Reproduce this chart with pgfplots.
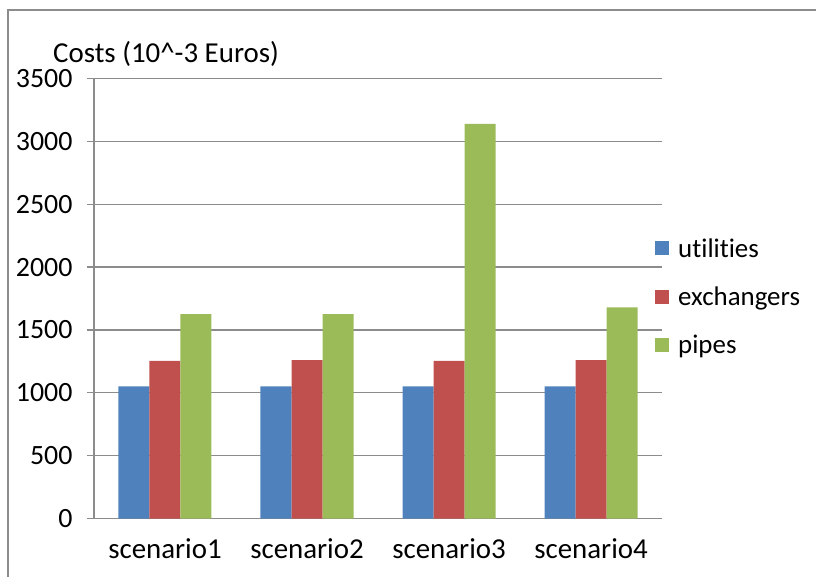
\documentclass[border=0pt]{standalone}
\usepackage{pgfplots}
\pgfplotsset{compat=1.18}
\usepackage{fontspec}
\setmainfont{Carlito}[Ligatures=NoCommon]
\definecolor{cblue}{HTML}{4F81BD}
\definecolor{cred}{HTML}{C0504D}
\definecolor{cgreen}{HTML}{9BBB59}
\definecolor{cgrid}{HTML}{8C8C8C}
\begin{document}
\begin{tikzpicture}
\path[use as bounding box] (-94bp,-58.5bp) rectangle (722bp,518.5bp);
\draw[cgrid, line width=1.2bp] (-86bp,-58.5bp) -- (-86bp,508.5bp) -- (722bp,508.5bp);
\begin{axis}[
  at={(0bp,0bp)}, anchor=south west,
  scale only axis, width=568bp, height=440bp,
  ybar=0pt, bar width=31bp,
  xmin=-0.5, xmax=3.5, ymin=0, ymax=3500,
  xtick={0,1,2,3},
  xticklabels={scenario1,scenario2,scenario3,scenario4},
  x tick style={draw=none},
  extra x ticks={-0.5,0.5,1.5,2.5,3.5},
  extra x tick labels={},
  extra x tick style={tick style={draw=cgrid, line width=1.2bp}, major tick length=7bp, tick align=outside, grid=none},
  ytick={0,500,1000,1500,2000,2500,3000,3500},
  axis x line*=bottom, axis y line*=left,
  axis line style={draw=cgrid, line width=1.2bp, -},
  y tick style={draw=cgrid, line width=1.2bp},
  tick align=outside, major tick length=7bp,
  ymajorgrids, major grid style={draw=cgrid, line width=1.2bp},
  /pgf/number format/assume math mode=true,
  /pgf/number format/set thousands separator={},
  tick label style={text=black},
  yticklabel style={xshift=-11bp, font=\fontsize{28}{33}\selectfont},
  xticklabel style={yshift=-10bp, font=\fontsize{29}{34}\selectfont},
  legend style={draw=none, fill=none, at={(0.9877,0.5045)}, anchor=west,
    font=\fontsize{27}{32}\selectfont, row sep=24bp, inner sep=0pt,
    /tikz/every odd column/.append style={column sep=7bp}},
  legend cell align=left,
  legend image code/.code={\fill[#1] (0bp,-7bp) rectangle (14bp,7bp);},
]
\addplot[fill=cblue, draw=none] coordinates {(0,1050) (1,1050) (2,1050) (3,1050)};
\addplot[fill=cred, draw=none] coordinates {(0,1253) (1,1260) (2,1253) (3,1260)};
\addplot[fill=cgreen, draw=none] coordinates {(0,1625) (1,1625) (2,3140) (3,1680)};
\legend{utilities,exchangers,pipes}
\end{axis}
\node[anchor=base west, font=\fontsize{29}{34}\selectfont, inner sep=0pt] at (-41bp,456bp) {Costs (10\^{}-3 Euros)};
\end{tikzpicture}
\end{document}
